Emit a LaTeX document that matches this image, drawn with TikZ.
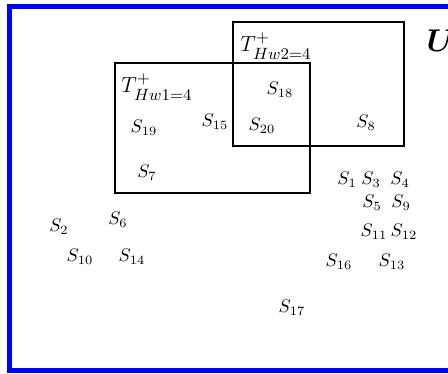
\documentclass[tikz,border=0pt]{standalone}
\usepackage{amsmath,amssymb,bm}
\usepackage{xcolor}
\usetikzlibrary{positioning}

\begin{document}
\begin{tikzpicture}[x=0.55pt, y=-0.55pt, elem/.style = {inner sep=0pt}, setlabel/.style = {inner sep=0pt, font=\fontsize{13.2}{15}\selectfont}, box/.style = {draw, line width=1.1pt}, frame/.style = {draw=blue, line width=2.6pt}]

\useasboundingbox (0,0) rectangle (448,374);
\clip (0,0) rectangle (448,374);

% universe frame (right side runs off the page)
\draw[frame] (470,6.5) -- (9.5,6.5) -- (9.5,370.5) -- (470,370.5);
\node[inner sep=0pt, font=\LARGE] (u) at (441,41) {$\bm{U}$};

% the two sets
\draw[box] (115,63) rectangle (310,193);
\draw[box] (233,22) rectangle (404,146);
\node[setlabel] (t1) at (157,87) {$T^{+}_{Hw1=4}$};
\node[setlabel] (t2) at (276,46) {$T^{+}_{Hw2=4}$};

% elements
\node[elem] (s18) at (280,90) {$S_{18}$};
\node[elem] (s19) at (144,128) {$S_{19}$};
\node[elem] (s15) at (215,122) {$S_{15}$};
\node[elem] (s20) at (262,126) {$S_{20}$};
\node[elem] (s8) at (366,123) {$S_{8}$};
\node[elem] (s7) at (147,173) {$S_{7}$};

\node[elem] (s1) at (347,180) {$S_{1}$};
\node[elem] (s3) at (371,180) {$S_{3}$};
\node[elem] (s4) at (400,180) {$S_{4}$};
\node[elem] (s5) at (372,203) {$S_{5}$};
\node[elem] (s9) at (401,203) {$S_{9}$};
\node[elem] (s11) at (374,232) {$S_{11}$};
\node[elem] (s12) at (404,232) {$S_{12}$};
\node[elem] (s16) at (339,262) {$S_{16}$};
\node[elem] (s13) at (392,262) {$S_{13}$};
\node[elem] (s17) at (292,308) {$S_{17}$};

\node[elem] (s2) at (59,227) {$S_{2}$};
\node[elem] (s6) at (118,220) {$S_{6}$};
\node[elem] (s10) at (80,257) {$S_{10}$};
\node[elem] (s14) at (132,257) {$S_{14}$};
\end{tikzpicture}
\end{document}
